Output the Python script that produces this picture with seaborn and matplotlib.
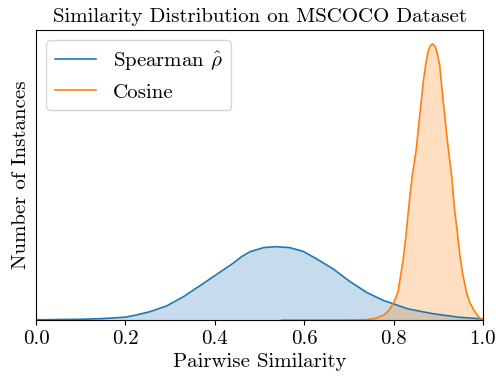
import matplotlib
matplotlib.use("Agg")
import matplotlib.pyplot as plt
import numpy as np
import seaborn as sns

# similarity grid and estimated densities (arbitrary units)
spearman_x = [0.0, 0.05, 0.1, 0.15, 0.2, 0.225, 0.255, 0.292, 0.33, 0.367, 0.404,
              0.441, 0.46, 0.479, 0.509, 0.535, 0.568, 0.598, 0.628, 0.665,
              0.702, 0.74, 0.777, 0.796, 0.833, 0.889, 0.945, 1.0]
spearman_y = [0.2, 0.4, 0.7, 1.4, 2.8, 5.0, 8.3, 14.0, 23.3, 34.3, 45.5,
              56.7, 63.3, 68.3, 72.3, 73.3, 72.3, 68.5, 61.0, 51.0,
              38.5, 27.5, 19.5, 16.7, 11.0, 6.2, 2.8, 1.0]

cosine_x = [0.55, 0.7, 0.74, 0.76, 0.78, 0.79, 0.8, 0.81, 0.816, 0.822, 0.829,
            0.835, 0.842, 0.85, 0.859, 0.867, 0.872, 0.877, 0.882, 0.887,
            0.892, 0.897, 0.903, 0.91, 0.92, 0.93, 0.936, 0.942, 0.949, 0.955,
            0.963, 0.97, 0.978, 0.985, 0.993, 1.0]
cosine_y = [0.0, 0.0, 0.3, 1.6, 5.5, 10.0, 16.7, 28.0, 45.0, 62.0, 90.0,
            118.0, 145.0, 168.0, 207.0, 240.0, 256.0, 268.0, 274.0, 276.0,
            274.0, 268.0, 255.0, 223.0, 180.0, 144.0, 112.0, 90.0, 62.0, 45.0,
            28.0, 18.0, 11.0, 6.0, 1.7, 0.5]

plt.rcParams["font.family"] = "serif"
plt.rcParams["font.serif"] = ["cmr10"]
plt.rcParams["mathtext.fontset"] = "cm"
plt.rcParams["axes.formatter.use_mathtext"] = True

fig = plt.figure(figsize=(4.96, 3.76), dpi=100)
ax = fig.add_axes([0.0726, 0.149, 0.9012, 0.771])

blue = "#1f77b4"
orange = "#ff7f0e"
sns.lineplot(x=spearman_x, y=spearman_y, ax=ax, color=blue, linewidth=1.2,
             label=r"Spearman $\hat{\rho}$")
ax.fill_between(spearman_x, spearman_y, color=blue, alpha=0.25, linewidth=0)
sns.lineplot(x=cosine_x, y=cosine_y, ax=ax, color=orange, linewidth=1.2,
             label="Cosine")
ax.fill_between(cosine_x, cosine_y, color=orange, alpha=0.25, linewidth=0)

ax.set_xlim(0, 1)
ax.set_ylim(0, max(cosine_y) * 1.05)
ax.set_yticks([])
ticks = np.arange(0, 1.01, 0.2)
ax.set_xticks(ticks)
ax.set_xticklabels([f"{t:.1f}" for t in ticks])
ax.tick_params(axis="x", labelsize=15)
ax.set_xlabel("Pairwise Similarity", fontsize=15)
ax.set_ylabel("Number of Instances", fontsize=15)
ax.set_title("Similarity Distribution on MSCOCO Dataset", fontsize=15)
ax.legend(loc="upper left", fontsize=15)

fig.savefig("out.png", dpi=100)
